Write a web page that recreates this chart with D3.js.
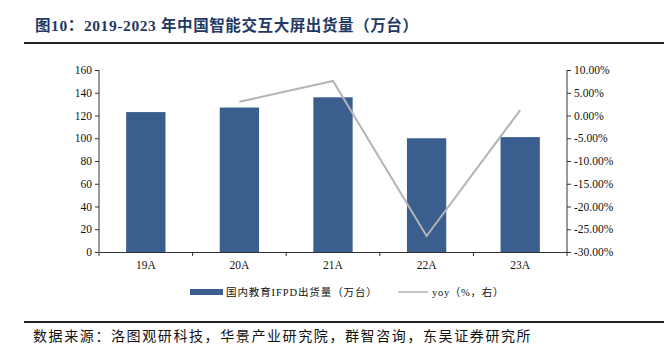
<!DOCTYPE html>
<html>
<head>
<meta charset="utf-8">
<script src="https://cdn.jsdelivr.net/npm/d3@7"></script>
<style>
  body { margin: 0; background: #fff; }
  svg text { font-family: "Liberation Serif", "Times New Roman", "Noto Sans CJK SC", serif; }
</style>
</head>
<body>
<svg id="chart" width="666" height="358"></svg>
<script>
// data
var categories = ['19A', '20A', '21A', '22A', '23A'];
var shipments = [123, 127, 136, 100, 101];          // 万台
var yoy = [null, 3.0, 7.6, -26.5, 1.2];              // %
var leftTicks = [0, 20, 40, 60, 80, 100, 120, 140, 160];
var rightTicks = [-30, -25, -20, -15, -10, -5, 0, 5, 10];

var svg = d3.select('#chart'),
    pLeft = 99, pRight = 567, pTop = 70, pBottom = 252;

var x = d3.scaleBand().domain(categories).range([pLeft, pRight]).paddingInner(0.58).paddingOuter(0.29);
var xc = d3.scalePoint().domain(categories).range([pLeft, pRight]).padding(0.5);
var y = d3.scaleLinear().domain([0, 160]).range([pBottom, pTop]);
var y2 = d3.scaleLinear().domain([-30, 10]).range([pBottom, pTop]);

// title
svg.append('text')
    .attr('x', 35).attr('y', 31)
    .style('font-size', '15.5px').style('font-weight', 'bold')
    .style('letter-spacing', '0.6px')
    .attr('fill', '#1f3a64')
    .text('图10：2019-2023 年中国智能交互大屏出货量（万台）');

svg.append('line').attr('x1', 24).attr('x2', 664).attr('y1', 43).attr('y2', 43)
    .attr('stroke', '#222').attr('stroke-width', 2);

// bars
svg.selectAll('rect.bar').data(shipments).enter().append('rect')
    .attr('class', 'bar')
    .attr('x', function(d, i) { return x(categories[i]); })
    .attr('width', x.bandwidth())
    .attr('y', function(d) { return y(d); })
    .attr('height', function(d) { return pBottom - y(d); })
    .attr('fill', '#3a5f8f');

// yoy line
var line = d3.line()
    .defined(function(d) { return d != null; })
    .x(function(d, i) { return xc(categories[i]); })
    .y(function(d) { return y2(d); });

svg.append('path').datum(yoy)
    .attr('d', line)
    .attr('fill', 'none')
    .attr('stroke', '#b4b4b4')
    .attr('stroke-width', 2);

// axes
var axisColor = '#333';

var gl = svg.append('g').attr('transform', 'translate(' + pLeft + ',0)')
    .call(d3.axisLeft(y).tickValues(leftTicks).tickSize(4).tickPadding(3));
var gr = svg.append('g').attr('transform', 'translate(' + pRight + ',0)')
    .call(d3.axisRight(y2).tickValues(rightTicks).tickSize(4).tickPadding(3)
      .tickFormat(function(d) { return d.toFixed(2) + '%'; }));
var gb = svg.append('g').attr('transform', 'translate(0,' + pBottom + ')')
    .call(d3.axisBottom(x).tickSize(0).tickPadding(9));

// category separator ticks on the bottom axis
var seps = d3.range(categories.length + 1).map(function(i) { return pLeft + i * (pRight - pLeft) / categories.length; });
gb.selectAll('line.sep').data(seps).enter().append('line')
    .attr('class', 'sep')
    .attr('x1', function(d) { return d; }).attr('x2', function(d) { return d; })
    .attr('y1', 0).attr('y2', 4)
    .attr('stroke', axisColor);

[gl, gr, gb].forEach(function(g) {
  g.selectAll('path.domain').attr('stroke', axisColor);
  g.selectAll('.tick line').attr('stroke', axisColor);
  g.selectAll('text')
    .attr('fill', '#111')
    .style('font-size', '11.5px')
    .style('font-family', '"Liberation Serif", "Times New Roman", serif');
});
gl.select('path.domain').attr('d', 'M0,' + pTop + 'V' + pBottom);
gr.select('path.domain').attr('d', 'M0,' + pTop + 'V' + pBottom);

// legend
var lg = svg.append('g').attr('transform', 'translate(0,292)');
lg.append('rect').attr('x', 190).attr('y', -3).attr('width', 33).attr('height', 6).attr('fill', '#3a5f8f');
lg.append('text').attr('x', 226).attr('y', 4).style('font-size', '10.5px').style('letter-spacing', '0.9px')
    .attr('fill', '#111')
    .text('国内教育IFPD出货量（万台）');
lg.append('line').attr('x1', 398).attr('x2', 428).attr('y1', 0).attr('y2', 0)
    .attr('stroke', '#b4b4b4').attr('stroke-width', 1.5);
lg.append('text').attr('x', 432).attr('y', 4).style('font-size', '10.5px').style('letter-spacing', '0.7px')
    .attr('fill', '#111')
    .text('yoy（%，右）');

// source
svg.append('line').attr('x1', 24).attr('x2', 664).attr('y1', 322).attr('y2', 322)
    .attr('stroke', '#222').attr('stroke-width', 2);
svg.append('text').attr('x', 33).attr('y', 341)
    .style('font-size', '14px').style('letter-spacing', '1.6px').attr('fill', '#111')
    .text('数据来源：洛图观研科技，华景产业研究院，群智咨询，东吴证券研究所');
</script>
</body>
</html>
